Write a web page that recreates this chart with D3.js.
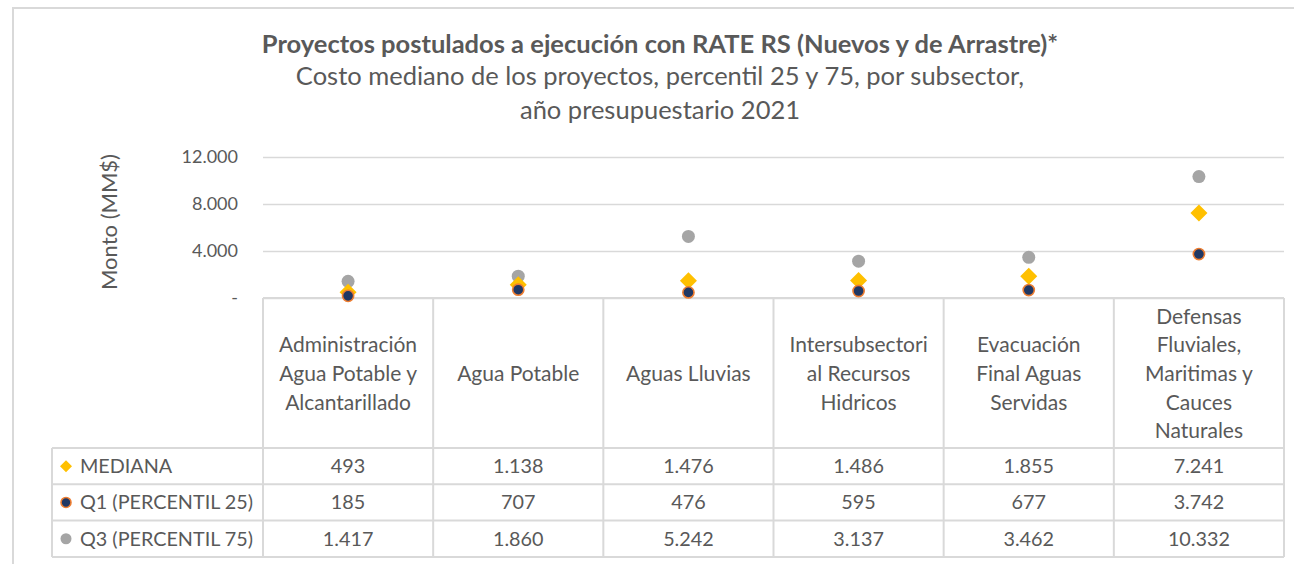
<!DOCTYPE html>
<html><head><meta charset="utf-8">
<script src="https://cdn.jsdelivr.net/npm/d3@7"></script>
<style>
html,body{margin:0;padding:0;background:#fff;}
svg{display:block;font-family:Lato,"Open Sans",sans-serif;}
</style></head>
<body>
<svg id="chart" width="1294" height="564"></svg>
<script>
const titleLines = ["Proyectos postulados a ejecución con RATE RS (Nuevos y de Arrastre)*"];
const subtitleLines = ["Costo mediano de los proyectos, percentil 25 y 75, por subsector,", "año presupuestario 2021"];
const categories = ["Administración Agua Potable y Alcantarillado","Agua Potable","Aguas Lluvias","Intersubsectorial Recursos Hidricos","Evacuación Final Aguas Servidas","Defensas Fluviales, Maritimas y Cauces Naturales"];
const categoryLines = [
  ["Administración","Agua Potable y","Alcantarillado"],
  ["Agua Potable"],
  ["Aguas Lluvias"],
  ["Intersubsectori","al Recursos","Hidricos"],
  ["Evacuación","Final Aguas","Servidas"],
  ["Defensas","Fluviales,","Maritimas y","Cauces","Naturales"]
];
const seriesNames = ["MEDIANA","Q1 (PERCENTIL 25)","Q3 (PERCENTIL 75)"];
const mediana = [493,1138,1476,1486,1855,7241];
const q1 = [185,707,476,595,677,3742];
const q3 = [1417,1860,5242,3137,3462,10332];
const yTicks = [0,4000,8000,12000];
const yLabel = "Monto (MM$)";

const svg = d3.select("#chart");
const textColor = "#595959", gridColor = "#d9d9d9";
const plotL = 263, plotR = 1284, plotT = 157, plotB = 298;
const tableL = 52, headerB = 448, rowH = 36.3;

// outer frame
svg.append("path").attr("d","M13,564 L13,8 L1294,8").attr("fill","none").attr("stroke",gridColor).attr("stroke-width",2);

const fmt = v => v === 0 ? "-" : d3.format(",")(v).replace(/,/g,".");

const x = d3.scaleBand().domain(categories).range([plotL, plotR]).padding(0);
const y = d3.scaleLinear().domain([0,12000]).range([plotB, plotT]);

// titles
svg.append("text").attr("x",660).attr("y",53).attr("text-anchor","middle").attr("fill",textColor)
  .attr("font-size",25.5).attr("font-weight","bold").text(titleLines[0]);
subtitleLines.forEach((t,i)=>{
  svg.append("text").attr("x",660).attr("y",85+i*34).attr("text-anchor","middle").attr("fill",textColor)
    .attr("font-size",25.5).text(t);
});

// gridlines
const yAxis = d3.axisLeft(y).tickValues(yTicks).tickSize(-(plotR-plotL)).tickPadding(25).tickFormat(fmt);
const ga = svg.append("g").attr("transform",`translate(${plotL},0)`).call(yAxis);
ga.select(".domain").remove();
ga.selectAll(".tick line").attr("stroke",gridColor).attr("stroke-width",1.5);
ga.selectAll(".tick text").attr("fill",textColor).attr("font-size",18).attr("font-family","Lato");

svg.append("text").attr("transform","translate(117,222) rotate(-90)").attr("text-anchor","middle")
  .attr("fill",textColor).attr("font-size",22).text(yLabel);

// table grid
const rowsB = headerB + rowH*3;
const tg = svg.append("g").attr("stroke",gridColor).attr("stroke-width",2).attr("fill","none");
tg.append("line").attr("x1",plotL).attr("x2",plotR).attr("y1",plotB).attr("y2",plotB);
const edges = categories.map(c=>x(c)).concat([plotR]);
edges.forEach(e=>{
  tg.append("line").attr("x1",e).attr("x2",e).attr("y1",plotB).attr("y2",rowsB);
});
tg.append("line").attr("x1",tableL).attr("x2",tableL).attr("y1",headerB).attr("y2",rowsB);
for(let i=0;i<=3;i++){
  const yy = headerB + i*rowH;
  tg.append("line").attr("x1",tableL).attr("x2",plotR).attr("y1",yy).attr("y2",yy);
}

// category header labels
const lh = 28.7, hc = 374;
categories.forEach((c,i)=>{
  const lines = categoryLines[i];
  const t = svg.append("text").attr("text-anchor","middle").attr("fill",textColor).attr("font-size",21);
  lines.forEach((l,j)=>{
    t.append("tspan").attr("x",x(c)+x.bandwidth()/2).attr("y",hc + (j-(lines.length-1)/2)*lh + 7).text(l);
  });
});

// table values
const rowsData = [mediana,q1,q3];
rowsData.forEach((arr,r)=>{
  const cy = headerB + rowH*(r+0.5);
  arr.forEach((v,i)=>{
    svg.append("text").attr("x",x(categories[i])+x.bandwidth()/2).attr("y",cy+7).attr("text-anchor","middle")
      .attr("fill",textColor).attr("font-size",19.8).text(fmt(v));
  });
  svg.append("text").attr("x",80).attr("y",cy+7).attr("fill",textColor).attr("font-size",19.8).text(seriesNames[r]);
});

function diamond(g,cx,cy,s){ g.append("path").attr("d",`M${cx},${cy-s} L${cx+s},${cy} L${cx},${cy+s} L${cx-s},${cy} Z`).attr("fill","#ffc000"); }
function navy(g,cx,cy,r){ g.append("circle").attr("cx",cx).attr("cy",cy).attr("r",r).attr("fill","#203864").attr("stroke","#ed7d31").attr("stroke-width",1.6); }
function gray(g,cx,cy,r){ g.append("circle").attr("cx",cx).attr("cy",cy).attr("r",r).attr("fill","#a5a5a5"); }

// legend markers
const lg = svg.append("g");
diamond(lg,66,headerB+rowH*0.5,6);
navy(lg,66,headerB+rowH*1.5,5);
gray(lg,66,headerB+rowH*2.5,5.5);

// data markers
const mg = svg.append("g");
categories.forEach((c,i)=>{
  gray(mg,x(c)+x.bandwidth()/2,y(q3[i]),6.5);
});
categories.forEach((c,i)=>{
  diamond(mg,x(c)+x.bandwidth()/2,y(mediana[i]),8.5);
});
categories.forEach((c,i)=>{
  navy(mg,x(c)+x.bandwidth()/2,y(q1[i]),5.6);
});
</script>
</body></html>
